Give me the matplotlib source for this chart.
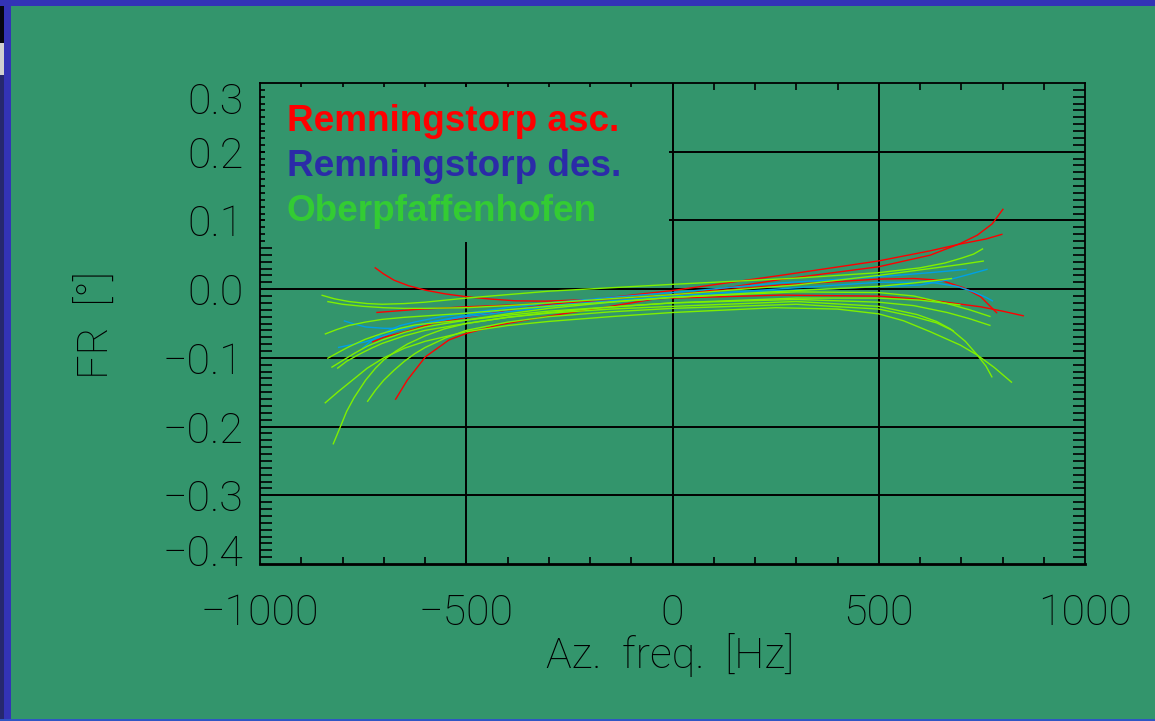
import matplotlib
matplotlib.use('Agg')
import matplotlib.pyplot as plt
from matplotlib.patches import Rectangle
from matplotlib.ticker import MultipleLocator
from matplotlib.transforms import ScaledTranslation

# Faraday rotation vs azimuth frequency, one polynomial fit per data take
# Remningstorp ascending
asc_freq = [
    [-672, -643, -599, -542, -500, -421, -308, -150, 0, 262, 499, 625, 698, 739, 775, 802],
    [-722, -700, -675, -640, -599, -550, -500, -440, -380, -308, -150, 0, 262, 400, 499, 585, 650, 706, 747, 787],
    [-728, -700, -663, -620, -583, -500, -400, -308, -150, 0, 262, 499, 625, 700, 760, 800],
    [-718, -623, -500, -308, -150, 0, 262, 499, 625, 747, 800, 852],
]
asc_fr = [
    [-0.161, -0.1325, -0.0985, -0.074, -0.0645, -0.052, -0.040, -0.025, -0.010, 0.014, 0.0325, 0.0495, 0.0665, 0.0786, 0.095, 0.117],
    [0.0316, 0.022, 0.013, 0.005, -0.0015, -0.007, -0.011, -0.0145, -0.017, -0.0175, -0.014, -0.008, 0.006, 0.011, 0.0146, 0.0155, 0.013, 0.002, -0.011, -0.035],
    [-0.077, -0.070, -0.0645, -0.057, -0.050, -0.041, -0.031, -0.023, -0.012, -0.002, 0.020, 0.041, 0.0558, 0.066, 0.073, 0.080],
    [-0.034, -0.0296, -0.0257, -0.021, -0.017, -0.013, -0.0087, -0.0102, -0.016, -0.0257, -0.032, -0.039],
]

# Remningstorp descending
des_freq = [
    [-797, -770, -744, -700, -663, -620, -583, -500, -400, -300, -150, 0, 300, 500, 625, 690, 730, 760, 777],
    [-811, -780, -744, -700, -663, -583, -500, -400, -300, -150, 0, 262, 400, 600, 666, 722, 764],
    [-752, -740, -728, -710, -688, -660, -623, -560, -500, -400, -300, -150, 0, 262, 500, 625, 713],
]
des_fr = [
    [-0.046, -0.051, -0.055, -0.057, -0.057, -0.053, -0.0476, -0.038, -0.030, -0.024, -0.017, -0.010, 0.002, 0.010, 0.010, 0.004, -0.004, -0.012, -0.0175],
    [-0.085, -0.081, -0.0767, -0.068, -0.0597, -0.0476, -0.040, -0.033, -0.026, -0.019, -0.012, -0.002, 0.001, 0.006, 0.013, 0.022, 0.029],
    [-0.086, -0.080, -0.074, -0.067, -0.060, -0.053, -0.0476, -0.040, -0.035, -0.027, -0.020, -0.012, -0.005, 0.009, 0.018, 0.024, 0.0287],
]

# Oberpfaffenhofen
ober_freq = [
    [-851, -820, -785, -740, -704, -650, -600, -500, -400, -300, -150, 0, 300, 500, 600, 660, 700, 730, 753],
    [-837, -800, -750, -700, -650, -600, -500, -400, -300, -150, 0, 300, 500, 600, 700, 755],
    [-843, -815, -785, -745, -704, -650, -600, -500, -300, 0, 300, 500, 585, 678],
    [-837, -810, -785, -745, -704, -660, -623, -560, -500, -400, -300, -150, 0, 300, 500, 600, 698],
    [-827, -800, -770, -740, -704, -650, -600, -500, -400, -300, -150, 0, 300, 500, 585, 666, 720, 771],
    [-813, -790, -760, -730, -704, -650, -600, -500, -400, -300, -150, 0, 300, 500, 585, 666, 720, 771],
    [-843, -810, -776, -740, -700, -650, -600, -500, -400, -300, -150, 0, 250, 400, 500, 560, 625, 698, 739, 780, 823],
    [-740, -720, -700, -675, -650, -625, -600, -550, -500, -400, -300, -150, 0, 300, 500, 585, 640, 682],
    [-823, -805, -790, -772, -744, -720, -700, -670, -643, -600, -554, -500, -400, -300, -150, 0, 300, 500, 593, 640, 674, 710, 739, 760, 775],
]
ober_fr = [
    [-0.0087, -0.014, -0.018, -0.021, -0.022, -0.021, -0.019, -0.013, -0.008, -0.003, 0.002, 0.007, 0.016, 0.024, 0.031, 0.038, 0.045, 0.051, 0.059],
    [-0.018, -0.022, -0.025, -0.027, -0.028, -0.028, -0.027, -0.024, -0.020, -0.014, -0.008, 0.006, 0.020, 0.028, 0.036, 0.041],
    [-0.0655, -0.059, -0.053, -0.048, -0.044, -0.041, -0.039, -0.035, -0.025, -0.012, -0.002, 0.004, 0.009, 0.0155],
    [-0.101, -0.092, -0.084, -0.073, -0.0645, -0.057, -0.052, -0.048, -0.045, -0.038, -0.032, -0.026, -0.020, -0.013, -0.013, -0.016, -0.023],
    [-0.114, -0.104, -0.093, -0.083, -0.074, -0.063, -0.055, -0.045, -0.036, -0.028, -0.019, -0.012, -0.004, -0.005, -0.010, -0.021, -0.030, -0.040],
    [-0.1155, -0.105, -0.095, -0.086, -0.079, -0.068, -0.060, -0.050, -0.041, -0.034, -0.026, -0.020, -0.015, -0.019, -0.024, -0.034, -0.043, -0.053],
    [-0.166, -0.149, -0.1325, -0.115, -0.100, -0.086, -0.076, -0.062, -0.053, -0.047, -0.040, -0.034, -0.027, -0.029, -0.036, -0.046, -0.062, -0.0815, -0.096, -0.114, -0.136],
    [-0.164, -0.147, -0.1325, -0.118, -0.105, -0.094, -0.085, -0.071, -0.060, -0.048, -0.040, -0.033, -0.028, -0.022, -0.029, -0.040, -0.049, -0.061],
    [-0.226, -0.200, -0.178, -0.158, -0.1325, -0.115, -0.103, -0.090, -0.080, -0.068, -0.058, -0.050, -0.041, -0.035, -0.029, -0.025, -0.018, -0.025, -0.037, -0.047, -0.058, -0.076, -0.096, -0.112, -0.1285],
]

legend_labels = ['Remningstorp asc.', 'Remningstorp des.', 'Oberpfaffenhofen']
xtick_vals = [-1000, -500, 0, 500, 1000]
ytick_vals = [-0.4, -0.3, -0.2, -0.1, 0.0, 0.1, 0.2, 0.3]
xgrid_vals = [-500, 0, 500]
ygrid_vals = [-0.3, -0.2, -0.1, 0.0, 0.1, 0.2]

bg = '#33956c'
line_cols = ['#ff0000', '#00a0e6', '#7ff000']
text_cols = ['#ff0000', '#2b2ba8', '#33cc33']
thin = dict(family='Roboto', weight='light')

fig = plt.figure(figsize=(11.55, 7.21), dpi=100, facecolor=bg)

# slide frame
W, H = 1155.0, 721.0
def frame(x, y, w, h, c):
    fig.patches.append(Rectangle((x / W, 1 - (y + h) / H), w / W, h / H, transform=fig.transFigure,
                                 facecolor=c, edgecolor='none', zorder=0))
frame(0, 0, W, 6, '#3333b6')
frame(4, 0, 7, H, '#3333b6')
frame(0, 6, 4, 37, '#050510')
frame(0, 43, 4, 32, '#d0d0d0')
frame(0, 75, 4, H - 75, '#26286e')
frame(0, H - 2, W, 2, '#2f56c4')

ax = fig.add_axes([260 / W, 1 - 564 / H, 825 / W, 481 / H])
ax.set_facecolor(bg)
ax.set_xlim(-1000, 1000)
ax.set_ylim(-0.4, 0.3)

for v in ygrid_vals:
    ax.axhline(v, color='black', lw=1.4, zorder=1)
for v in xgrid_vals:
    ax.axvline(v, color='black', lw=1.4, zorder=1)

for freqs, frs, c in [(asc_freq, asc_fr, line_cols[0]),
                      (des_freq, des_fr, line_cols[1]),
                      (ober_freq, ober_fr, line_cols[2])]:
    for f, r in zip(freqs, frs):
        ax.plot(f, r, color=c, lw=1.0, zorder=2, solid_capstyle='butt')

# blank box behind the legend text hides grid and ticks there
ax.add_patch(Rectangle((0.006, 0.669), 0.49, 0.323, transform=ax.transAxes,
                       facecolor=bg, edgecolor='none', zorder=3))
base_y = [0.900, 0.8067, 0.713]
for lab, c, yy in zip(legend_labels, text_cols, base_y):
    ax.text(0.0327, yy, lab, transform=ax.transAxes, color=c, fontsize=26.6,
            family='Liberation Sans', weight='bold', va='baseline', ha='left', zorder=4)

for s in ax.spines.values():
    s.set_linewidth(1.3)
ax.spines['bottom'].set_linewidth(2.0)

ax.set_xticks(xtick_vals, [str(v).replace('-', '\u2212') for v in xtick_vals])
ax.set_yticks(ytick_vals, [('%.1f' % v).replace('-', '\u2212') for v in ytick_vals])
ax.xaxis.set_minor_locator(MultipleLocator(100))
ax.yaxis.set_minor_locator(MultipleLocator(0.01))
ax.tick_params(which='major', length=0)
ax.tick_params(axis='x', which='major', pad=21)
ax.tick_params(axis='y', which='major', pad=12)
ax.tick_params(axis='x', which='minor', direction='in', length=5, width=1.2, top=True, bottom=True)
ax.tick_params(axis='y', which='minor', direction='in', length=8.6, width=1.2, left=True, right=True)
for lab in ax.get_xticklabels() + ax.get_yticklabels():
    lab.set_fontsize(31)
    lab.set_fontfamily(thin['family'])
    lab.set_fontweight(thin['weight'])

# end labels on the value axis sit just inside the frame
yt = ax.yaxis.get_major_ticks()
yt[0].label1.set_transform(yt[0].label1.get_transform() + ScaledTranslation(0, 14 / 100, fig.dpi_scale_trans))
yt[-1].label1.set_transform(yt[-1].label1.get_transform() + ScaledTranslation(0, -15 / 100, fig.dpi_scale_trans))

fig.text(97 / W, 1 - 325 / H, 'FR  [\u00b0]', rotation=90, ha='center', va='center', fontsize=31, **thin)
fig.text(670 / W, 1 - 655 / H, 'Az.  freq.  [Hz]', ha='center', va='center', fontsize=31, **thin)

fig.savefig('out.png', dpi=100, facecolor=bg)
